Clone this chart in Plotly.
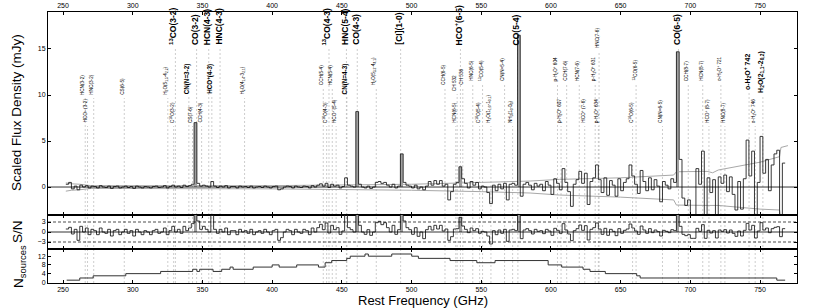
import numpy as np
import plotly.graph_objects as go

# ---------------- data ----------------
FREQ_START = 252.0   # GHz, first bin edge
BIN_WIDTH = 2.0      # GHz

flux_mjy = [
    0.3, 0.5, -0.2, 0.1, -0.3, 0.2, 0.0, 0.15, -0.1, 0.1,
    0.05, -0.1, 0.15, 0.0, -0.05, 0.1, -0.15, 0.05, 0.1, -0.1,
    0.0, 0.1, -0.05, 0.05, -0.15, 0.1, 0.0, -0.1, 0.05, 0.0,
    -0.1, 0.05, 0.1, -0.05, 0.0, 0.15, -0.1, 0.05, 0.2, 0.0,
    0.1, -0.05, 0.2, 0.05, 0.15, 0.3, 7.0, 0.4, 0.1, 0.2,
    0.1, 0.0, 0.6, 0.1, -0.05, 0.1, 0.0, 0.15, -0.1, 0.05,
    0.05, -0.1, 0.1, 0.0, 0.05, -0.05, 0.1, -0.1, 0.0, 0.05,
    -0.05, 0.1, 0.0, -0.1, 0.05, 0.1, -0.3, -0.2, 0.0, 0.1,
    0.05, -0.1, 0.1, 0.0, -0.05, 0.1, 0.05, -0.1, 0.15, 0.0,
    0.2, 0.35, 0.1, 0.4, -0.05, 0.3, 0.1, 0.2, -0.1, 0.05,
    1.0, 0.2, 0.1, 0.0, 8.2, 0.3, 0.0, -0.1, 0.1, -0.15,
    0.0, 0.5, 0.6, 0.4, 0.5, 0.2, 0.0, 0.3, -0.1, 0.1,
    3.6, 0.5, 0.2, 0.1, -0.1, 0.2, -0.2, 0.0, -0.3, 0.1,
    0.6, 0.2, 0.7, 0.3, 0.7, 0.1, 0.3, -1.4, -0.5, 0.3,
    0.5, 2.2, 0.9, 0.4, -0.1, 0.6, 0.2, 0.5, -0.2, 0.1,
    0.0, -0.6, -1.8, 0.2, -0.4, 0.3, -0.2, 0.4, -1.4, 0.3,
    0.4, 0.2, 16.5, -1.0, 0.3, 0.5, 0.2, -0.3, 0.4, 0.1,
    0.3, -0.4, 0.6, 0.2, -0.8, 0.9, 0.4, -0.3, 2.0, 0.5,
    -0.5, -2.1, 0.3, 0.8, 1.7, 0.4, 1.5, -1.9, 0.6, 1.0,
    2.4, 0.8, -0.6, 1.0, -0.9, 0.7, 0.2, -1.0, 0.9, -0.4,
    0.5, 0.9, 2.4, 1.2, 0.3, -0.7, 1.8, 0.6, -0.4, 1.0,
    -0.3, 0.8, 0.1, -1.6, 0.6, 0.2, -0.2, 0.9, 0.5, 14.7,
    3.0, -1.2, -2.0, -1.4, -3.5, -3.5, 2.0, 0.3, 3.9, -3.5,
    1.0, -0.6, 0.8, -3.5, 1.1, 0.4, 1.3, -0.5, 1.1, -0.8,
    -2.5, 0.6, -2.4, 0.9, 5.1, 1.2, 3.9, -3.5, 0.5, 5.5,
    1.5, 3.0, -0.4, 2.4, 3.6, 4.0, -3.5, 2.6,
]

snr = [
    0.9, 1.4, -0.6, 0.8, -2.5, 1.7, 0.0, 1.2, -0.8, 0.8,
    0.4, -0.8, 1.2, 0.0, -0.4, 0.8, -1.2, 0.4, 0.8, -0.8,
    0.0, 0.8, -0.4, 0.4, -1.2, 0.8, 0.0, -0.8, 0.4, 0.0,
    -0.8, 0.4, 0.8, -0.4, 0.0, 1.2, -0.8, 0.4, 1.7, 0.0,
    0.8, -0.4, 1.7, 0.4, 1.2, 2.5, 58.0, 3.3, 0.8, 1.7,
    0.8, 0.0, 5.0, 0.8, -0.4, 0.8, 0.0, 1.2, -0.8, 0.4,
    0.4, -0.8, 0.8, 0.0, 0.4, -0.4, 0.8, -0.8, 0.0, 0.4,
    -0.4, 0.8, 0.0, -0.8, 0.4, 0.8, -2.5, -1.7, 0.0, 0.8,
    0.4, -0.8, 0.8, 0.0, -0.4, 0.8, 0.4, -0.8, 1.2, 0.0,
    1.3, 2.3, 0.7, 2.7, -0.3, 2.0, 0.7, 1.3, -0.7, 0.3,
    6.7, 1.3, 0.7, 0.0, 55.0, 2.0, 0.0, -0.7, 0.7, -1.0,
    0.0, 2.8, 3.2, 2.2, 2.8, 1.3, 0.0, 2.0, -0.7, 0.7,
    24.0, 3.3, 1.3, 0.7, -0.7, 1.3, -1.3, 0.0, -2.0, 0.7,
    1.7, 0.6, 2.0, 0.9, 2.0, 0.3, 0.9, -2.5, -1.4, 0.9,
    1.0, 4.4, 1.8, 0.8, -0.2, 1.2, 0.4, 1.0, -0.4, 0.2,
    0.0, -1.2, -3.6, 0.4, -0.8, 0.6, -0.4, 0.8, -2.8, 0.6,
    0.8, 0.4, 33.0, -2.0, 0.6, 1.0, 0.4, -0.6, 0.8, 0.2,
    0.4, -0.5, 0.8, 0.3, -1.0, 1.1, 0.5, -0.4, 2.5, 0.6,
    -0.6, -2.6, 0.4, 1.0, 2.1, 0.5, 1.9, -2.4, 0.8, 1.3,
    2.7, 0.9, -0.7, 1.1, -1.0, 0.8, 0.2, -1.1, 1.0, -0.4,
    0.5, 0.9, 2.4, 1.2, 0.3, -0.7, 1.8, 0.6, -0.4, 1.0,
    -0.2, 0.6, 0.1, -1.2, 0.5, 0.2, -0.2, 0.7, 0.4, 11.0,
    1.7, -0.7, -1.1, -0.8, -1.9, -1.9, 1.1, 0.2, 2.2, -1.9,
    0.5, -0.3, 0.4, -1.8, 0.6, 0.2, 0.7, -0.3, 0.6, -0.4,
    -1.3, 0.3, -1.2, 0.5, 2.6, 0.6, 2.0, -1.8, 0.3, 2.8,
    0.6, 1.2, -0.2, 1.0, 1.4, 1.6, -1.4, 1.0,
]

# +/- 1 sigma envelope of the stacked spectrum
env_freq = [252, 256, 262, 270, 400, 450, 500, 550, 585, 606, 650, 688, 690, 712, 716, 720, 750, 764, 765, 770]
env_hi = [0.45, 0.35, 0.3, 0.15, 0.15, 0.2, 0.3, 0.5, 0.65, 0.83, 1.0, 1.3, 1.66, 1.7, 1.55, 1.85, 2.7, 3.3, 4.3, 4.5]
env_lo = [-0.45, -0.35, -0.3, -0.15, -0.2, -0.25, -0.35, -0.5, -0.65, -0.87, -1.1, -1.4, -1.96, -2.0, -2.0, -2.0, -2.4, -2.5, -3.5, -4.0]

# number of contributing sources (step function)
nsrc_edges = [252.6, 262, 271.6, 295, 320, 343, 346, 348, 357.6, 363.8, 369.8, 372, 386.4, 400,
              405, 417.6, 433.2, 438, 442.7, 453.5, 456, 466.6, 469, 485.8, 500.1, 504.9, 527.6,
              546.8, 559.9, 598, 607.7, 623, 628, 639, 661.5, 664, 762, 768]
nsrc_vals = [1, 2, 3, 4, 5, 6, 5, 6, 5, 6, 7, 6, 7, 8, 7, 8, 7, 9, 10, 11, 12, 13, 12, 13, 12, 11,
             10, 9, 10, 8, 7, 6, 5, 4, 3, 2, 1]

# strong lines whose bins are shaded
shaded_line_freqs = [345.80, 461.04, 492.16, 535.06, 576.27, 691.47]

# line identifications: (rest frequency GHz, label, tier)
lines = [
    (330.59, "<b><sup>13</sup>CO(3-2)</b>", "A"),
    (345.80, "<b>CO(3-2)</b>", "A"),
    (354.51, "<b>HCN(4-3)</b>", "A"),
    (362.63, "<b>HNC(4-3)</b>", "A"),
    (440.77, "<b><sup>13</sup>CO(4-3)</b>", "A"),
    (453.27, "<b>HNC(5-4)</b>", "A"),
    (461.04, "<b>CO(4-3)</b>", "A"),
    (492.16, "<b>[CI](1-0)</b>", "A"),
    (535.06, "<b>HCO<sup>+</sup>(6-5)</b>", "A"),
    (576.27, "<b>CO(5-4)</b>", "A"),
    (691.47, "<b>CO(6-5)</b>", "A"),
    (340.25, "<b>CN(N=3-2)</b>", "Bb"),
    (356.73, "<b>HCO<sup>+</sup>(4-3)</b>", "Bb"),
    (453.60, "<b>CN(N=4-3)</b>", "Bb"),
    (742.10, "<b>o-H<sub>2</sub>O<sup>+</sup> 742</b>", "Bbig"),
    (752.03, "<b>H<sub>2</sub>O(2<sub>1,1</sub>-2<sub>0,2</sub>)</b>", "Bbig2"),
    (265.89, "HCN(3-2)", "B1"),
    (271.98, "HNC(3-2)", "B1"),
    (293.91, "CS(6-5)", "B1"),
    (325.15, "H<sub>2</sub>O(5<sub>1,5</sub>-4<sub>2,2</sub>)", "B1"),
    (380.20, "H<sub>2</sub>O(4<sub>1,4</sub>-3<sub>2,1</sub>)", "B1"),
    (436.66, "CCH(5-4)", "B2"),
    (443.12, "HCN(5-4)", "B2"),
    (474.69, "H<sub>2</sub>O(5<sub>3,2</sub>-4<sub>4,1</sub>)", "B2"),
    (523.97, "CCH(6-5)", "B2"),
    (532.72, "CH 532", "B3"),
    (536.76, "CH 536", "B2"),
    (543.90, "HNC(6-5)", "B4"),
    (550.93, "<sup>13</sup>CO(5-4)", "B4"),
    (566.73, "CN(N=5-4)", "B4"),
    (604.68, "p-H<sub>2</sub>O<sup>+</sup> 604", "B4"),
    (611.27, "CCH(7-6)", "B4"),
    (620.30, "HCN(7-6)", "B4"),
    (631.72, "p-H<sub>2</sub>O<sup>+</sup> 631", "B4"),
    (634.51, "HNC(7-6)", "Bhigh"),
    (661.07, "<sup>13</sup>CO(6-5)", "B4"),
    (698.50, "CCH(8-7)", "B4"),
    (708.88, "HCN(8-7)", "B4"),
    (721.90, "o-H<sub>2</sub>O<sup>+</sup> 721", "B4"),
    (267.56, "HCO<sup>+</sup> (3-2)", "C"),
    (329.33, "C<sup>18</sup>O(3-2)", "C"),
    (342.88, "CS(7-6)", "C"),
    (349.40, "CCH(4-3)", "C"),
    (439.09, "C<sup>18</sup>O(4-3)", "C"),
    (445.90, "HCO<sup>+</sup> (5-4)", "C"),
    (531.72, "HCN(6-5)", "C"),
    (548.83, "C<sup>18</sup>O(5-4)", "C"),
    (556.94, "H<sub>2</sub>O(1<sub>1,0</sub>-1<sub>0,1</sub>)", "C"),
    (572.50, "NH<sub>3</sub>(1<sub>0</sub>-0<sub>0</sub>)", "C"),
    (607.23, "p-H<sub>2</sub>O<sup>+</sup> 607", "C"),
    (624.21, "HCO<sup>+</sup> (7-6)", "C"),
    (634.00, "p-H<sub>2</sub>O<sup>+</sup> 634", "C"),
    (658.55, "C<sup>18</sup>O(6-5)", "C"),
    (680.00, "CN(N=6-5)", "C"),
    (713.34, "HCO<sup>+</sup> (8-7)", "C"),
    (724.78, "HNC(8-7)", "C"),
    (746.50, "o-H<sub>2</sub>O<sup>+</sup> 746", "C"),
]

x_tick_vals = [250, 300, 350, 400, 450, 500, 550, 600, 650, 700, 750]

# ---------------- layout constants ----------------
W, H = 822, 308
ML, MR, MT, MB = 48, 25, 12, 25
PLOT_H = H - MT - MB
PLOT_W = W - ML - MR


def py(px):  # pixel row -> paper y
    return (H - MB - px) / PLOT_H


def px_x(px):  # pixel column -> paper x
    return (px - ML) / PLOT_W


# tier -> (bottom pixel of text, font size)
tier_style = {
    "A": (47, 8.5), "Bb": (96, 6.3), "Bbig": (92, 7.0), "Bbig2": (95, 7.0),
    "B1": (97, 4.7), "B2": (87, 4.7), "B3": (93, 4.7), "B4": (83, 4.7),
    "Bhigh": (50, 4.7), "C": (125, 4.7),
}

edges = FREQ_START + BIN_WIDTH * np.arange(len(flux_mjy) + 1)
centers = edges[:-1] + BIN_WIDTH / 2
flux_step = list(flux_mjy) + [flux_mjy[-1]]
snr_step = list(snr) + [snr[-1]]
shade_idx = [int((f - FREQ_START) // BIN_WIDTH) for f in shaded_line_freqs]

FONT = "Liberation Sans, Arial, Helvetica, sans-serif"
fig = go.Figure()

# envelope
for env in (env_hi, env_lo):
    fig.add_trace(go.Scatter(x=env_freq, y=env, mode="lines",
                             line=dict(color="#a8a8a8", width=1),
                             xaxis="x2", yaxis="y", hoverinfo="skip"))
# shaded line bins
fig.add_trace(go.Bar(x=[centers[i] for i in shade_idx], y=[flux_mjy[i] for i in shade_idx],
                     width=BIN_WIDTH, marker=dict(color="#a0a0a0", line=dict(width=0)),
                     xaxis="x2", yaxis="y"))
fig.add_trace(go.Bar(x=[centers[i] for i in shade_idx], y=[snr[i] for i in shade_idx],
                     width=BIN_WIDTH, marker=dict(color="#a0a0a0", line=dict(width=0)),
                     xaxis="x3", yaxis="y2"))
# spectrum
fig.add_trace(go.Scatter(x=edges, y=flux_step, mode="lines", line=dict(color="#222", width=0.9, shape="hv"),
                         xaxis="x2", yaxis="y"))
# S/N
fig.add_trace(go.Scatter(x=edges, y=snr_step, mode="lines", line=dict(color="#222", width=0.9, shape="hv"),
                         xaxis="x3", yaxis="y2"))
# N sources
fig.add_trace(go.Scatter(x=nsrc_edges, y=list(nsrc_vals) + [nsrc_vals[-1]], mode="lines",
                         line=dict(color="#333", width=1, shape="hv"), xaxis="x", yaxis="y3"))

shapes = []
annotations = []
for f, txt, tier in lines:
    base_px, size = tier_style[tier]
    shapes.append(dict(type="line", xref="x", yref="paper", x0=f, x1=f, y0=0, y1=py(base_px + 1),
                       line=dict(color="#b8b8b8", width=0.7, dash="2px,2px"), layer="below"))
    annotations.append(dict(x=f, y=py(base_px), xref="x", yref="paper", text=txt, showarrow=False,
                            textangle=-90, xanchor="center", yanchor="bottom", xshift=-2,
                            font=dict(size=size, color="black", family=FONT)))

# reference lines
shapes.append(dict(type="line", xref="paper", yref="y", x0=0, x1=1, y0=0, y1=0, line=dict(color="black", width=0.8)))
shapes.append(dict(type="line", xref="paper", yref="y2", x0=0, x1=1, y0=0, y1=0, line=dict(color="black", width=0.8)))
for v in (3, -3):
    shapes.append(dict(type="line", xref="paper", yref="y2", x0=0, x1=1, y0=v, y1=v,
                       line=dict(color="black", width=0.7, dash="3px,2px")))

# axis titles
title_font = dict(size=13.5, family=FONT, color="black")
annotations += [
    dict(x=px_x(17), y=py(113), xref="paper", yref="paper", text="Scaled Flux Density (mJy)", showarrow=False,
         textangle=-90, xanchor="center", yanchor="middle", font=title_font),
    dict(x=px_x(17), y=py(232), xref="paper", yref="paper", text="S/N", showarrow=False,
         textangle=-90, xanchor="center", yanchor="middle", font=title_font),
    dict(x=px_x(19), y=py(267), xref="paper", yref="paper", text="N<sub>sources</sub>", showarrow=False,
         textangle=-90, xanchor="center", yanchor="middle", font=title_font),
    dict(x=0.5, y=py(300), xref="paper", yref="paper", text="Rest Frequency (GHz)", showarrow=False,
         xanchor="center", yanchor="middle", font=dict(size=13, family=FONT, color="black")),
]

axis_common = dict(showline=True, linecolor="black", linewidth=1, mirror="allticks", ticks="inside",
                   ticklen=3, tickcolor="black", tickwidth=0.8, showgrid=False, zeroline=False,
                   automargin=False, tickfont=dict(size=7, family=FONT, color="black"))
xr = [239.2, 776.5]
fig.update_layout(
    width=W, height=H, margin=dict(l=ML, r=MR, t=MT, b=MB, autoexpand=False),
    paper_bgcolor="white", plot_bgcolor="white", showlegend=False,
    barmode="overlay", bargap=0, font=dict(family=FONT), hovermode=False,
    xaxis=dict(anchor="y3", range=xr, tickvals=x_tick_vals, **axis_common),
    xaxis2=dict(anchor="y", range=xr, side="top", tickvals=x_tick_vals, matches="x", **axis_common),
    xaxis3=dict(anchor="y2", range=xr, tickvals=x_tick_vals, showticklabels=False, matches="x", **axis_common),
    yaxis=dict(domain=[py(215), 1], range=[-3.04, 19.02], tickvals=[0, 5, 10, 15], **axis_common),
    yaxis2=dict(domain=[py(249), py(215)], range=[-5.1, 5.1], tickvals=[-3, 0, 3], **axis_common),
    yaxis3=dict(domain=[0, py(249)], range=[-0.3, 15.3], tickvals=[0, 4, 8, 12], **axis_common),
    shapes=shapes, annotations=annotations,
)

fig.write_html("out.html", config={"displayModeBar": False},
               post_script="document.body.style.margin='0';document.body.style.overflow='hidden';")
